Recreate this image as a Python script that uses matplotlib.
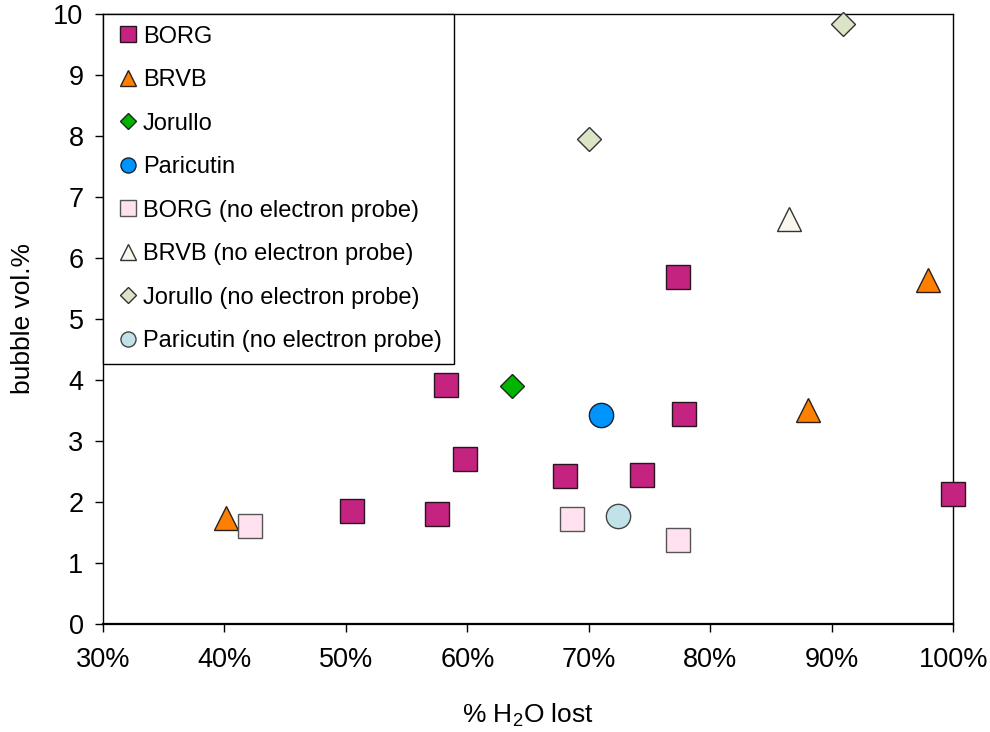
import matplotlib
matplotlib.use("Agg")
import matplotlib.pyplot as plt
from matplotlib.ticker import FuncFormatter

plt.rcParams['font.family'] = ['Liberation Sans', 'DejaVu Sans']
plt.rcParams['mathtext.fontset'] = 'custom'
plt.rcParams['mathtext.rm'] = 'Liberation Sans'

# fraction of H2O lost (x) and bubble vol.% (y) per series
borg_x = [0.582, 0.598, 0.505, 0.575, 0.680, 0.744, 0.778, 0.773, 1.000]
borg_y = [3.91, 2.70, 1.85, 1.80, 2.42, 2.44, 3.44, 5.68, 2.13]
brvb_x = [0.401, 0.880, 0.979]
brvb_y = [1.73, 3.50, 5.63]
jorullo_x = [0.637]
jorullo_y = [3.90]
paricutin_x = [0.710]
paricutin_y = [3.43]
borg_np_x = [0.421, 0.686, 0.773]
borg_np_y = [1.60, 1.72, 1.37]
brvb_np_x = [0.865]
brvb_np_y = [6.63]
jorullo_np_x = [0.700, 0.909]
jorullo_np_y = [7.95, 9.84]
paricutin_np_x = [0.724]
paricutin_np_y = [1.77]

series = [
    ("BORG", borg_x, borg_y, 's', '#C4237F', '#2a1420'),
    ("BRVB", brvb_x, brvb_y, '^', '#FF7F00', '#2a2020'),
    ("Jorullo", jorullo_x, jorullo_y, 'D', '#00B400', '#1a2a1a'),
    ("Paricutin", paricutin_x, paricutin_y, 'o', '#0094FF', '#1a2030'),
    ("BORG (no electron probe)", borg_np_x, borg_np_y, 's', '#FFE1EF', '#555555'),
    ("BRVB (no electron probe)", brvb_np_x, brvb_np_y, '^', '#FAF6EE', '#333333'),
    ("Jorullo (no electron probe)", jorullo_np_x, jorullo_np_y, 'D', '#DCE4C8', '#333333'),
    ("Paricutin (no electron probe)", paricutin_np_x, paricutin_np_y, 'o', '#C2E2EA', '#444444'),
]

fig = plt.figure(figsize=(9.9, 7.32), dpi=100)
ax = fig.add_axes([0.104, 0.148, 0.859, 0.833])

for label, xs, ys, m, fc, ec in series:
    ms = 12.5 if m == 'D' else 17.5
    ax.plot(xs, ys, linestyle='none', marker=m, markersize=ms,
            markerfacecolor=fc, markeredgecolor=ec, markeredgewidth=1.0,
            label=label, clip_on=False, zorder=3)

ax.set_xlim(0.3, 1.0)
ax.set_ylim(0, 10)
ax.set_xticks([0.3, 0.4, 0.5, 0.6, 0.7, 0.8, 0.9, 1.0])
ax.set_yticks(range(0, 11))
ax.xaxis.set_major_formatter(FuncFormatter(lambda v, p: f"{v * 100:.0f}%"))
ax.tick_params(direction='out', length=6, width=1, labelsize=19.5, pad=11)
ax.tick_params(axis='y', pad=8)
for s in ax.spines.values():
    s.set_linewidth(1.0)
ax.spines['bottom'].set_linewidth(1.6)

ax.set_xlabel("% H$_\\mathregular{2}$O lost", fontsize=19, labelpad=20)
ax.set_ylabel("bubble vol.%", fontsize=19, labelpad=13)

leg = ax.legend(loc='upper left', bbox_to_anchor=(0, 1), borderaxespad=0,
                fontsize=17, markerscale=0.62, handlelength=1.15,
                handletextpad=0.05, labelspacing=0.91, borderpad=0.5,
                fancybox=False, framealpha=1, edgecolor='black')
leg.get_frame().set_linewidth(1.0)
leg.set_zorder(5)

fig.savefig("out.png", dpi=100)
